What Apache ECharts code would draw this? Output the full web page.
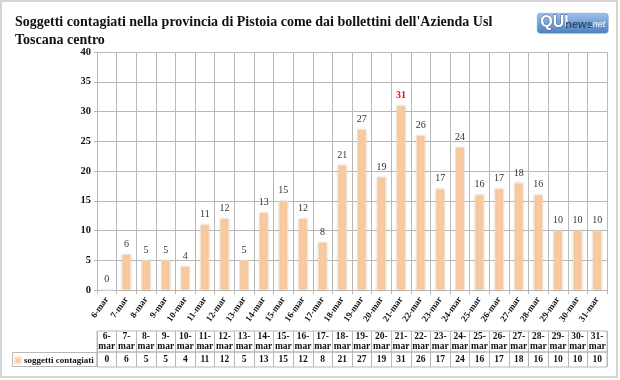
<!DOCTYPE html>
<html>
<head>
<meta charset="utf-8">
<script src="https://cdn.jsdelivr.net/npm/echarts@6/dist/echarts.min.js"></script>
<style>
html,body{margin:0;padding:0;background:#fff;}
#c{width:620px;height:380px;}
</style>
</head>
<body>
<div id="c"></div>
<script>
var categories = ['6-mar','7-mar','8-mar','9-mar','10-mar','11-mar','12-mar','13-mar','14-mar','15-mar','16-mar','17-mar','18-mar','19-mar','20-mar','21-mar','22-mar','23-mar','24-mar','25-mar','26-mar','27-mar','28-mar','29-mar','30-mar','31-mar'];
var values = [0,6,5,5,4,11,12,5,13,15,12,8,21,27,19,31,26,17,24,16,17,18,16,10,10,10];
var seriesName = 'soggetti contagiati';
var titleText = "Soggetti contagiati nella provincia di Pistoia come dai bollettini dell'Azienda Usl\nToscana centro";

var SERIF = '"Liberation Serif","DejaVu Serif",serif';
var GRID_C = '#b8b8b8';
var BAR_C = '#F9CAA0';

var maxVal = Math.max.apply(null, values);
var barData = values.map(function (v) {
  if (v === maxVal) {
    return { value: v, label: { color: '#ff0000', fontWeight: 'bold' } };
  }
  return v;
});

var chart = echarts.init(document.getElementById('c'), null, { renderer: 'canvas' });
chart.setOption({
  animation: false,
  backgroundColor: '#fff',
  title: {
    text: titleText,
    left: 15, top: 13,
    padding: 0,
    textStyle: { fontFamily: SERIF, fontWeight: 'bold', fontSize: 14, color: '#111', lineHeight: 18 }
  },
  legend: {
    data: [seriesName],
    left: 12, top: 354,
    itemWidth: 6, itemHeight: 6, itemGap: 2,
    padding: [2, 2, 2, 2],
    icon: 'rect',
    textStyle: { fontFamily: SERIF, fontWeight: 'bold', fontSize: 9, color: '#111', padding: [0,0,0,-2] }
  },
  graphic: [
    { type: 'rect', silent: true, z: -10, shape: { x: 1, y: 1, width: 616, height: 376 }, style: { fill: '#fff', stroke: '#d4d4d4', lineWidth: 2 } },
    { type: 'rect', silent: true, z: 5, shape: { x: 12.5, y: 352.5, width: 84.5, height: 14 }, style: { fill: 'none', stroke: GRID_C, lineWidth: 1 } },
    {
      type: 'group', left: 537, top: 13, z: 10,
      children: [
        { type: 'rect', shape: { x: 0, y: 0, width: 71, height: 20, r: 3 },
          style: { fill: new echarts.graphic.LinearGradient(0, 0, 0, 1, [{ offset: 0, color: '#9cc0e8' }, { offset: 1, color: '#4f80bd' }]), stroke: '#6d95c8', lineWidth: 0.5 } },
        { type: 'text', x: 3, y: 1, style: { text: 'QUI', font: 'bold 16px "Liberation Sans",Arial,sans-serif', fill: '#fff', stroke: '#3f628f', lineWidth: 0.8 } },
        { type: 'text', x: 28, y: 6, style: { text: 'news', font: 'bold 11px "Liberation Sans",Arial,sans-serif', fill: '#2e4d75' } },
        { type: 'text', x: 53, y: 7, style: { text: '.net', font: 'italic 9px "Liberation Sans",Arial,sans-serif', fill: '#fff' } }
      ]
    }
  ],
  grid: [
    { left: 97, right: 13, top: 52, height: 238 },
    { left: 97, right: 13, top: 331, height: 21, show: true, borderColor: GRID_C, borderWidth: 1, backgroundColor: 'transparent' },
    { left: 97, right: 13, top: 352, height: 15, show: true, borderColor: GRID_C, borderWidth: 1, backgroundColor: 'transparent' }
  ],
  xAxis: [
    {
      type: 'category', gridIndex: 0, data: categories,
      axisLine: { lineStyle: { color: GRID_C } },
      axisTick: { show: true, length: 4, lineStyle: { color: GRID_C } },
      splitLine: { show: true, lineStyle: { color: GRID_C } },
      axisLabel: { interval: 0, rotate: 55, margin: 8, fontFamily: SERIF, fontWeight: 'bold', fontSize: 9, color: '#111' }
    },
    {
      type: 'category', gridIndex: 1, data: categories, position: 'top',
      axisLine: { show: false }, axisTick: { show: false },
      splitLine: { show: true, lineStyle: { color: GRID_C } },
      axisLabel: {
        interval: 0, inside: true, margin: 1, fontFamily: SERIF, fontWeight: 'bold', fontSize: 9.5, color: '#111', lineHeight: 10,
        formatter: function (v) { var p = v.split('-'); return p[0] + '-\n' + p[1]; }
      }
    },
    {
      type: 'category', gridIndex: 2, data: categories, position: 'top',
      axisLine: { show: false }, axisTick: { show: false },
      splitLine: { show: true, lineStyle: { color: GRID_C } },
      axisLabel: {
        interval: 0, inside: true, margin: 3, fontFamily: SERIF, fontWeight: 'bold', fontSize: 9.5, color: '#111',
        formatter: function (v, i) { return String(values[i]); }
      }
    }
  ],
  yAxis: [
    {
      type: 'value', gridIndex: 0, min: 0, max: 40, interval: 5,
      axisLine: { show: true, lineStyle: { color: GRID_C } },
      axisTick: { show: true, length: 3, lineStyle: { color: GRID_C } },
      splitLine: { show: true, lineStyle: { color: GRID_C } },
      axisLabel: { margin: 6, fontFamily: SERIF, fontWeight: 'bold', fontSize: 10.5, color: '#111' }
    },
    { type: 'value', gridIndex: 1, show: false },
    { type: 'value', gridIndex: 2, show: false }
  ],
  series: [
    {
      name: seriesName, type: 'bar', xAxisIndex: 0, yAxisIndex: 0,
      data: barData, barWidth: 9,
      itemStyle: { color: BAR_C, borderColor: '#fde3cc', borderWidth: 0.8, shadowColor: 'rgba(0,0,0,0.12)', shadowBlur: 2 },
      label: { show: true, position: 'top', distance: 5, fontFamily: SERIF, fontSize: 10, color: '#333' }
    }
  ]
});
</script>
</body>
</html>
